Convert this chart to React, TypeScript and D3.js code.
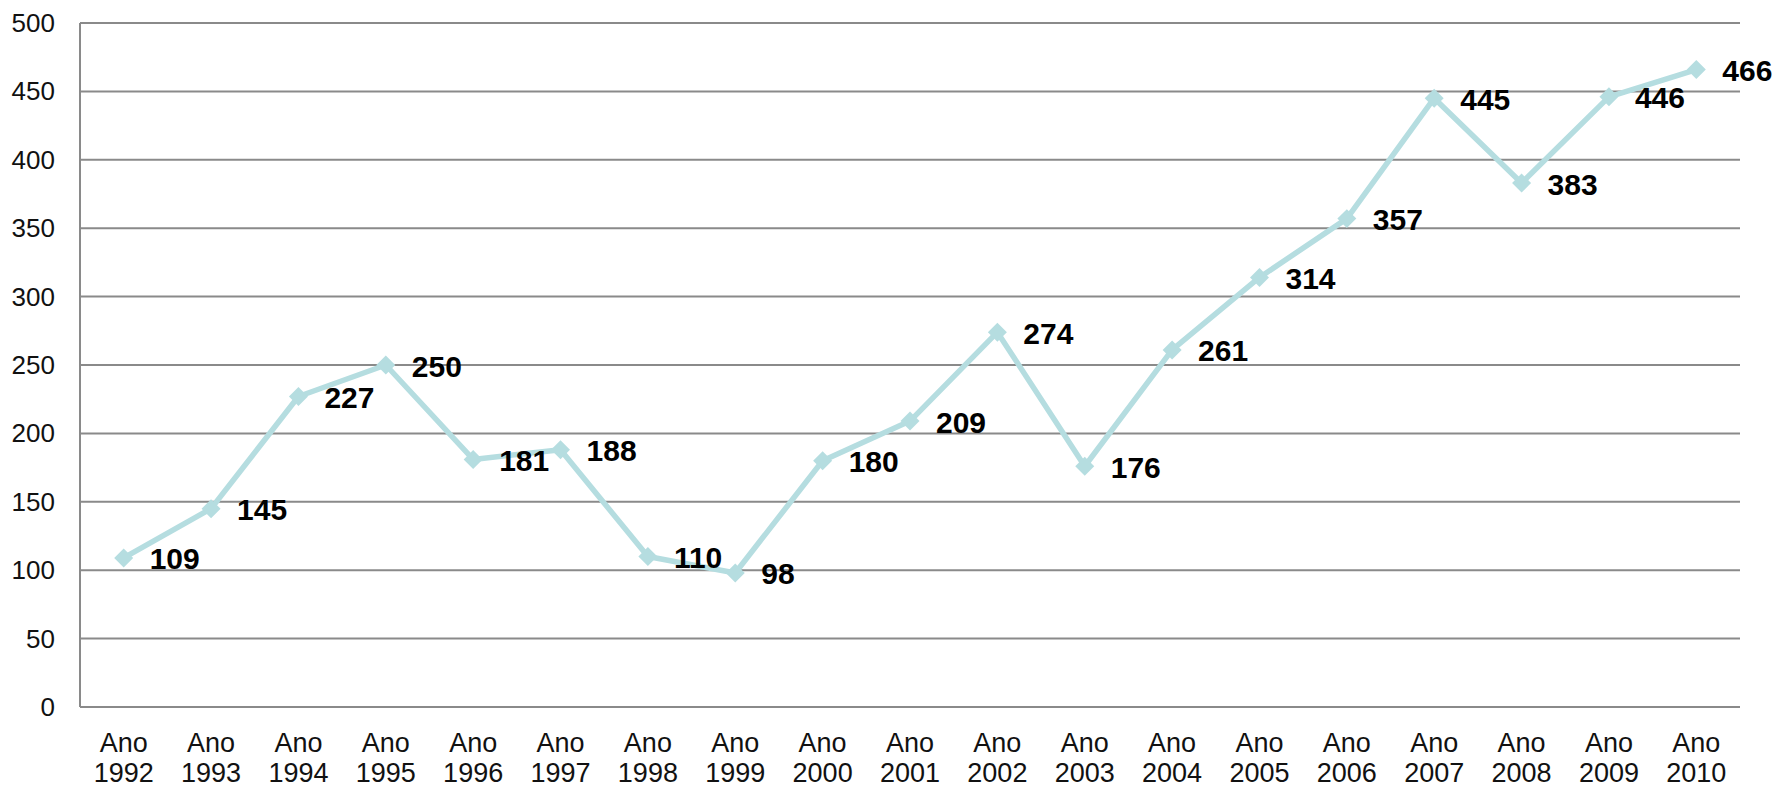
import React from "react";
import * as d3 from "d3";

const categories: string[] = [
  "1992", "1993", "1994", "1995", "1996", "1997", "1998", "1999", "2000", "2001",
  "2002", "2003", "2004", "2005", "2006", "2007", "2008", "2009", "2010",
];
const values: number[] = [109, 145, 227, 250, 181, 188, 110, 98, 180, 209, 274, 176, 261, 314, 357, 445, 383, 446, 466];
const yTicks: number[] = [0, 50, 100, 150, 200, 250, 300, 350, 400, 450, 500];
const categoryPrefix = "Ano";

const W = 1779;
const H = 789;
const M = { left: 80, right: 39, top: 23, bottom: 82 };
const FONT = "'Liberation Sans', Arial, sans-serif";
const LINE = "#b5dde0";
const GRID = "#8a8a8a";

export default function App() {
  const x = d3
    .scaleBand<string>()
    .domain(categories)
    .range([M.left, W - M.right])
    .paddingInner(0)
    .paddingOuter(0);
  const y = d3.scaleLinear().domain([0, 500]).range([H - M.bottom, M.top]);
  const cx = (c: string) => (x(c) ?? 0) + x.bandwidth() / 2;

  const line = d3
    .line<number>()
    .x((_, i) => cx(categories[i]))
    .y((v) => y(v));

  const diamond = d3.symbol().type(d3.symbolDiamond2).size(230)();

  return (
    <svg
      width={W}
      height={H}
      style={{ position: "absolute", left: 0, top: 0, background: "#fff" }}
      fontFamily={FONT}
    >
      {yTicks.map((t) => (
        <g key={t}>
          <line x1={M.left} x2={W - M.right} y1={y(t)} y2={y(t)} stroke={GRID} strokeWidth={2} />
          <text x={55} y={y(t)} textAnchor="end" dominantBaseline="central" fontSize={26} fill="#111">
            {t}
          </text>
        </g>
      ))}
      <line x1={M.left} x2={M.left} y1={M.top} y2={H - M.bottom} stroke={GRID} strokeWidth={2} />
      {categories.map((c) => (
        <text key={c} x={cx(c)} textAnchor="middle" fontSize={27} fill="#111">
          <tspan x={cx(c)} y={752}>{categoryPrefix}</tspan>
          <tspan x={cx(c)} y={782}>{c}</tspan>
        </text>
      ))}
      <path d={line(values) ?? ""} fill="none" stroke={LINE} strokeWidth={5.5} strokeLinejoin="round" />
      {values.map((v, i) => (
        <path key={i} d={diamond ?? ""} transform={`translate(${cx(categories[i])},${y(v)})`} fill={LINE} />
      ))}
      {values.map((v, i) => (
        <text
          key={"l" + i}
          x={cx(categories[i]) + 26}
          y={y(v) + 1}
          dominantBaseline="central"
          fontSize={30}
          fontWeight="bold"
          fill="#000"
        >
          {v}
        </text>
      ))}
    </svg>
  );
}
